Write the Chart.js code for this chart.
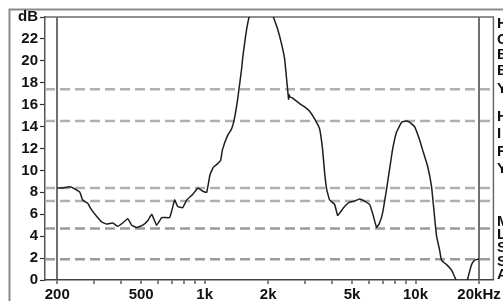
<!DOCTYPE html>
<html><head><meta charset="utf-8">
<script src="https://cdn.jsdelivr.net/npm/chart.js@4/dist/chart.umd.min.js"></script>
<style>html,body{margin:0;padding:0;background:#fff;overflow:hidden}canvas{display:block}</style>
</head><body>
<canvas id="c" width="503" height="301"></canvas>
<script>
const freqs = [200,212,229,237,256,264,279,291,308,325,343,367,387,409,432,451,476,509,537,561,592,626,683,721,745,787,822,877,930,979,1022,1060,1100,1150,1190,1215,1285,1343,1387,1434,1466,1498,1514,1547,1582,1634,1726,1863,1989,2100,2218,2318,2394,2448,2474,2500,2515,2540,2613,2821,2979,3146,3322,3508,3625,3706,3788,3913,4132,4269,4364,4609,4867,5140,5427,5731,6053,6255,6535,6752,6976,7288,7530,7780,8128,8590,8970,9368,9893,10448,10790,11402,11914,12300,12580,12998,13280,14040,14820,15320,15640,16500,17200,17620,18430,19040,19700,20000];
const levels = [8.4,8.4,8.5,8.4,8.0,7.3,7.0,6.4,5.8,5.3,5.1,5.2,4.9,5.2,5.6,5.0,4.8,5.0,5.4,6.0,5.0,5.7,5.7,7.3,6.7,6.6,7.3,7.8,8.4,8.1,8.0,9.6,10.3,10.6,10.9,11.9,13.2,13.8,14.8,16.5,17.9,19.3,20.2,21.6,22.9,24.2,25.5,26.0,25.5,24.2,22.9,21.5,20.2,18.3,17.4,16.5,16.9,16.7,16.6,16.1,15.8,15.4,14.7,13.8,11.9,9.8,8.3,7.3,6.9,5.9,6.1,6.7,7.1,7.2,7.4,7.2,6.9,6.1,4.8,5.2,6.1,8.3,10.1,11.9,13.5,14.4,14.5,14.4,14.0,12.8,11.9,10.4,8.5,5.8,4.0,2.75,1.8,1.4,0.9,0.3,-0.1,-1.5,-1.0,0.0,1.4,1.8,1.9,1.9];
const refLevels = [17.4, 14.5, 8.4, 7.2, 4.7, 1.9];
const xTickValues = [200,300,400,500,600,700,800,900,1000,2000,3000,4000,5000,6000,7000,8000,9000,10000,20000];
const xTickLabels = {200:'200',500:'500',1000:'1k',2000:'2k',5000:'5k',10000:'10k',20000:'20kHz'};
const sideLetters = ['H','C','B','B','Y','H','I','F','Y','M','L','S','S','A'];
const sideLetterDb = [23.4,21.9,20.5,19.1,17.4,14.9,13.3,11.7,10.1,5.3,4.1,2.9,1.7,0.5];

const X_MIN = 175, X_MAX = 23400;
const FONT = {family:'"Liberation Sans", Arial, sans-serif', size:15, weight:'bold'};

const framePlugin = {
  id:'frame',
  beforeDraw(chart){
    const c = chart.ctx, a = chart.chartArea;
    c.save();
    c.fillStyle='#fff'; c.fillRect(0,0,chart.width,chart.height);
    c.strokeStyle='#8a8a8a'; c.lineWidth=2;
    c.beginPath();
    c.moveTo(9.5,chart.height); c.lineTo(9.5,9.5); c.lineTo(chart.width,9.5);
    c.stroke();
    c.strokeStyle='#6a6a6a'; c.lineWidth=1.5;
    c.beginPath();
    c.moveTo(a.left,a.top); c.lineTo(a.right,a.top); c.lineTo(a.right,a.bottom);
    c.stroke();
    c.restore();
  },
  afterDraw(chart){
    const c = chart.ctx, y = chart.scales.y;
    c.save();
    c.fillStyle='#111';
    c.font = 'bold 15px "Liberation Sans", Arial, sans-serif';
    c.textBaseline='middle'; c.textAlign='left';
    sideLetters.forEach((t,i)=>c.fillText(t, 497, y.getPixelForValue(sideLetterDb[i])));
    c.restore();
  }
};

const datasets = [{
  data: freqs.map((f,i)=>({x:f,y:levels[i]})),
  borderColor:'#1e1e1e', borderWidth:1.5, pointRadius:0, tension:0.1, fill:false
}];
refLevels.forEach((v,i)=>datasets.push({
  data:[{x:X_MIN,y:v},{x:X_MAX,y:v}],
  borderColor: i<4 ? '#b0b0b0' : '#9a9a9a', borderWidth:2.5, borderDash:[10,5],
  pointRadius:0, fill:false
}));

new Chart(document.getElementById('c'), {
  type:'line',
  data:{datasets},
  options:{
    responsive:false, animation:false, devicePixelRatio:1,
    layout:{padding:{top:17,right:9,left:0,bottom:0}},
    plugins:{legend:{display:false},tooltip:{enabled:false}},
    scales:{
      x:{
        type:'logarithmic', min:X_MIN, max:X_MAX,
        afterBuildTicks(s){ s.ticks = xTickValues.map(v=>({value:v})); },
        afterFit(s){ s.height = 21; },
        ticks:{autoSkip:false, maxRotation:0, minRotation:0, padding:2, color:'#111', font:FONT,
          callback:(v)=>xTickLabels[v] || ''},
        grid:{drawOnChartArea:true, tickLength:4, tickColor:'#333', tickWidth:1.2,
          color:(ctx)=> (ctx.tick && (ctx.tick.value===200 || ctx.tick.value===20000)) ? '#707070' : 'rgba(0,0,0,0)',
          lineWidth:(ctx)=> (ctx.tick && (ctx.tick.value===200 || ctx.tick.value===20000)) ? 2 : 0},
        border:{display:true, color:'#444', width:1.5}
      },
      y:{
        min:0, max:24,
        afterFit(s){ s.width = 45; },
        ticks:{stepSize:2, padding:2, color:'#111', font:FONT,
          callback:(v)=> v===24 ? 'dB' : String(v)},
        grid:{drawOnChartArea:false, tickLength:5, tickColor:'#333', tickWidth:1.2},
        border:{display:true, color:'#555', width:1.5}
      }
    }
  },
  plugins:[framePlugin]
});
</script>
</body></html>
